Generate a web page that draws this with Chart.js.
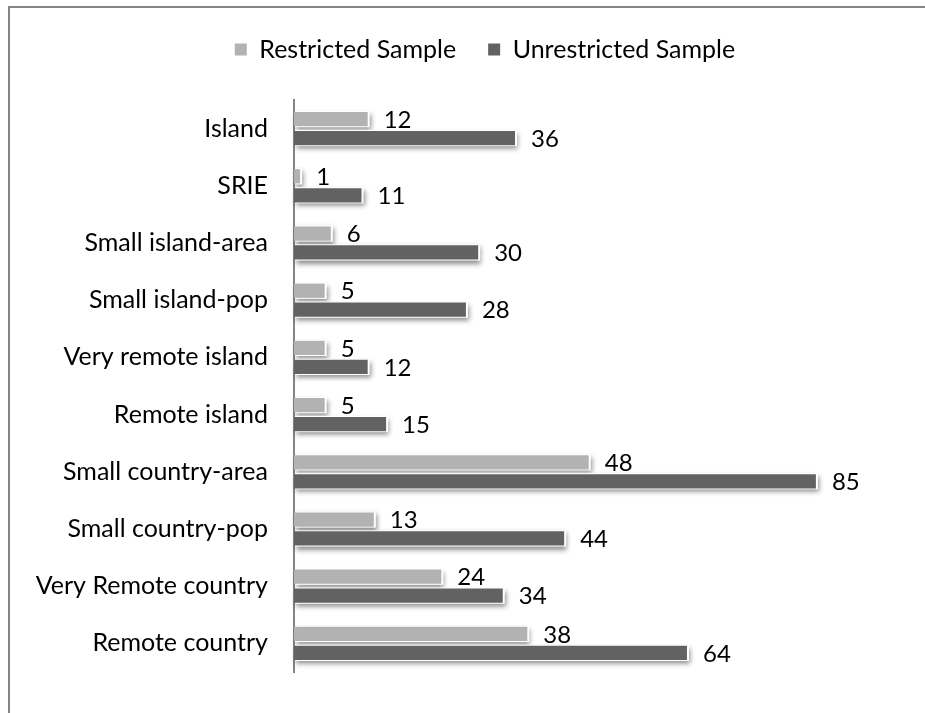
<!DOCTYPE html>
<html>
<head>
<meta charset="utf-8">
<script src="https://cdn.jsdelivr.net/npm/chart.js@4.4.0/dist/chart.umd.min.js"></script>
<style>
    body { margin: 0; background: #fff; overflow: hidden; }
    #wrap { position: relative; width: 925px; height: 713px; }
    #frame {
        position: absolute; left: 8px; top: 6px; right: -10px; bottom: -10px;
        border-left: 2px solid #858585; border-top: 2px solid #858585;
    }
    #chart { position: absolute; left: 0; top: 0; }
</style>
</head>
<body>
<div id="wrap">
    <div id="frame"></div>
    <canvas id="chart" width="925" height="713"></canvas>
</div>
<script>
// Chart data
const categories = [
    'Island', 'SRIE', 'Small island-area', 'Small island-pop', 'Very remote island',
    'Remote island', 'Small country-area', 'Small country-pop', 'Very Remote country', 'Remote country'
];
const seriesNames = ['Restricted Sample', 'Unrestricted Sample'];
const restricted = [12, 1, 6, 5, 5, 5, 48, 13, 24, 38];
const unrestricted = [36, 11, 30, 28, 12, 15, 85, 44, 34, 64];

const FONT = 'Lato';
const AXIS_LEFT = 294;   // pixel where the value axis starts
const PAD_LEFT = 20;
const LEGEND_SHIFT = 21; // nudge legend right to sit where the original does

/**
 * Soft drop shadow behind each bar
 */
const barShadow = {
    id: 'barShadow',
    beforeDatasetsDraw(chart) {
        const ctx = chart.ctx;
        ctx.save();
        ctx.shadowColor = 'rgba(0, 0, 0, 0.45)';
        ctx.shadowBlur = 5;
        ctx.shadowOffsetX = 1;
        ctx.shadowOffsetY = 3;
        ctx.fillStyle = '#fff';
        chart.data.datasets.forEach((ds, i) => {
            chart.getDatasetMeta(i).data.forEach(bar => {
                const { x, y, base, height } = bar.getProps(['x', 'y', 'base', 'height'], true);
                ctx.fillRect(base + 1, y - height / 2 - 1, x - base + 1, height + 2);
            });
        });
        ctx.restore();
    }
};

/**
 * Value labels at the end of each bar
 */
const valueLabels = {
    id: 'valueLabels',
    afterDatasetsDraw(chart) {
        const ctx = chart.ctx;
        ctx.save();
        ctx.font = '24px ' + FONT;
        ctx.fillStyle = '#000';
        ctx.textAlign = 'left';
        ctx.textBaseline = 'middle';
        chart.data.datasets.forEach((ds, i) => {
            chart.getDatasetMeta(i).data.forEach((bar, j) => {
                const { x, y } = bar.getProps(['x', 'y'], true);
                ctx.fillText(String(ds.data[j]), x + 16, y + 1);
            });
        });
        ctx.restore();
    }
};

// Extra room under the legend, and a small horizontal nudge
const legendMargin = {
    id: 'legendMargin',
    beforeInit(chart) {
        const fit = chart.legend.fit;
        chart.legend.fit = function () {
            fit.bind(chart.legend)();
            this.height += 28;
        };
    },
    afterLayout(chart) {
        chart.legend.left += LEGEND_SHIFT;
        chart.legend.right += LEGEND_SHIFT;
    }
};

new Chart(document.getElementById('chart'), {
    type: 'bar',
    data: {
        labels: categories,
        datasets: [
            {
                label: seriesNames[0],
                data: restricted,
                backgroundColor: '#b2b2b2',
                categoryPercentage: 0.663,
                barPercentage: 0.75
            },
            {
                label: seriesNames[1],
                data: unrestricted,
                backgroundColor: '#626262',
                categoryPercentage: 0.663,
                barPercentage: 0.75
            }
        ]
    },
    options: {
        indexAxis: 'y',
        responsive: false,
        animation: false,
        layout: {
            padding: { top: 5, left: PAD_LEFT, right: 17, bottom: 25 }
        },
        plugins: {
            legend: {
                position: 'top',
                labels: {
                    boxWidth: 12,
                    boxHeight: 12,
                    padding: 32,
                    color: '#000',
                    font: { family: FONT, size: 25 }
                }
            },
            tooltip: { enabled: false }
        },
        scales: {
            x: {
                display: false,
                min: 0,
                max: 100
            },
            y: {
                grid: { display: false, drawTicks: false },
                border: { color: '#858585', width: 2 },
                ticks: {
                    color: '#000',
                    padding: 26,
                    font: { family: FONT, size: 25 }
                },
                afterFit(scale) {
                    scale.width = AXIS_LEFT - PAD_LEFT;
                }
            }
        }
    },
    plugins: [legendMargin, barShadow, valueLabels]
});
</script>
</body>
</html>
